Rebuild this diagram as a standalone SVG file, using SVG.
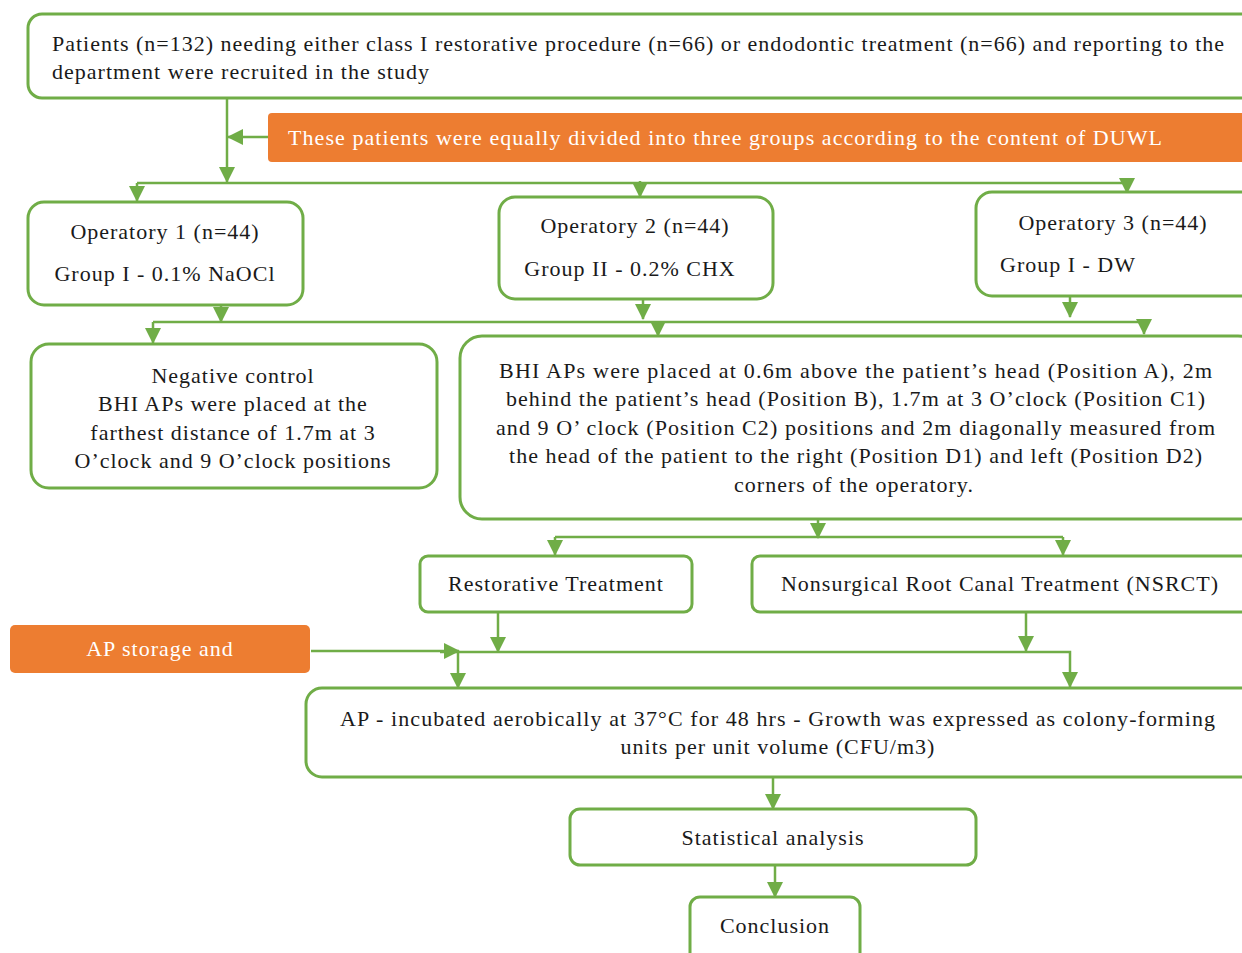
<svg xmlns="http://www.w3.org/2000/svg" width="1242" height="953" viewBox="0 0 1242 953">
<style>
.box{fill:#fff;stroke:#70AD47;stroke-width:3}
.ob{fill:#ED7D31;stroke:none}
.t{font-family:"Liberation Serif","Times New Roman",serif;font-size:22px;letter-spacing:1px;fill:#1a1a1a}
.c{text-anchor:middle}
.w{fill:#fff}
.ln{fill:none;stroke:#70AD47;stroke-width:2.5}
</style>
<defs>
<marker id="ah" markerUnits="userSpaceOnUse" markerWidth="16" markerHeight="18" refX="15" refY="8" orient="auto">
<path d="M0,0 L16,8 L0,16 Z" fill="#70AD47"/>
</marker>
</defs>
<rect width="1242" height="953" fill="#fff"/>
<g id="connectors">
<path class="ln" d="M227,98 V182" marker-end="url(#ah)"/>
<path class="ln" d="M268,137 H228" marker-end="url(#ah)"/>
<path class="ln" d="M137,183 H1127" />
<path class="ln" d="M137,183 V201" marker-end="url(#ah)"/>
<path class="ln" d="M640,181 V197" marker-end="url(#ah)"/>
<path class="ln" d="M1127,180 V193" marker-end="url(#ah)"/>
<path class="ln" d="M221,305 V322" marker-end="url(#ah)"/>
<path class="ln" d="M643,299 V319" marker-end="url(#ah)"/>
<path class="ln" d="M1070,296 V317" marker-end="url(#ah)"/>
<path class="ln" d="M153,322 H1144"/>
<path class="ln" d="M153,322 V343" marker-end="url(#ah)"/>
<path class="ln" d="M658,321 V336" marker-end="url(#ah)"/>
<path class="ln" d="M1144,319 V334" marker-end="url(#ah)"/>
<path class="ln" d="M818,519 V538" marker-end="url(#ah)"/>
<path class="ln" d="M555,537 H1063"/>
<path class="ln" d="M555,537 V555" marker-end="url(#ah)"/>
<path class="ln" d="M1063,537 V555" marker-end="url(#ah)"/>
<path class="ln" d="M498,612 V652" marker-end="url(#ah)"/>
<path class="ln" d="M1026,612 V651" marker-end="url(#ah)"/>
<path class="ln" d="M311,651 H459" marker-end="url(#ah)"/>
<path class="ln" d="M440,652 H1070 V687" marker-end="url(#ah)"/>
<path class="ln" d="M458,652 V688" marker-end="url(#ah)"/>
<path class="ln" d="M773,777 V809" marker-end="url(#ah)"/>
<path class="ln" d="M775,865 V897" marker-end="url(#ah)"/>
</g>
<g id="n-patients">
<rect class="box" x="28" y="14" width="1230" height="84" rx="14"/>
<text class="t" x="52" y="51" textLength="1173" lengthAdjust="spacing">Patients (n=132) needing either class I restorative procedure (n=66) or endodontic treatment (n=66) and reporting to the</text>
<text class="t" x="52" y="79" textLength="378" lengthAdjust="spacing">department were recruited in the study</text>
</g>
<g id="n-divided">
<rect class="ob" x="268" y="113" width="990" height="49" rx="4"/>
<text class="t w" x="288" y="145" textLength="875" lengthAdjust="spacing">These patients were equally divided into three groups according to the content of DUWL</text>
</g>
<g id="n-op1">
<rect class="box" x="28" y="202" width="275" height="103" rx="16"/>
<text class="t c" x="165" y="239">Operatory 1 (n=44)</text>
<text class="t c" x="165" y="281">Group I - 0.1% NaOCl</text>
</g>
<g id="n-op2">
<rect class="box" x="499" y="197" width="274" height="102" rx="16"/>
<text class="t c" x="635" y="233">Operatory 2 (n=44)</text>
<text class="t c" x="630" y="276">Group II - 0.2% CHX</text>
</g>
<g id="n-op3">
<rect class="box" x="976" y="192" width="290" height="104" rx="16"/>
<text class="t c" x="1113" y="230">Operatory 3 (n=44)</text>
<text class="t" x="1000" y="272">Group I - DW</text>
</g>
<g id="n-negative">
<rect class="box" x="31" y="344" width="406" height="144" rx="18"/>
<text class="t c" x="233" y="383">Negative control</text>
<text class="t c" x="233" y="411">BHI APs were placed at the</text>
<text class="t c" x="233" y="440">farthest distance of 1.7m at 3</text>
<text class="t c" x="233" y="468">O’clock and 9 O’clock positions</text>
</g>
<g id="n-positions">
<rect class="box" x="460" y="336" width="800" height="183" rx="22"/>
<text class="t c" x="856" y="378" textLength="714" lengthAdjust="spacing">BHI APs were placed at 0.6m above the patient’s head (Position A), 2m</text>
<text class="t c" x="856" y="406" textLength="700" lengthAdjust="spacing">behind the patient’s head (Position B), 1.7m at 3 O’clock (Position C1)</text>
<text class="t c" x="856" y="435" textLength="720" lengthAdjust="spacing">and 9 O’ clock (Position C2) positions and 2m diagonally measured from</text>
<text class="t c" x="856" y="463" textLength="694" lengthAdjust="spacing">the head of the patient to the right (Position D1) and left (Position D2)</text>
<text class="t c" x="854" y="492">corners of the operatory.</text>
</g>
<g id="n-restorative">
<rect class="box" x="420" y="556" width="272" height="56" rx="8"/>
<text class="t c" x="556" y="591">Restorative Treatment</text>
</g>
<g id="n-nsrct">
<rect class="box" x="752" y="556" width="510" height="56" rx="8"/>
<text class="t c" x="1000" y="591">Nonsurgical Root Canal Treatment (NSRCT)</text>
</g>
<g id="n-storage">
<rect class="ob" x="10" y="625" width="300" height="48" rx="5"/>
<text class="t c w" x="160" y="656">AP storage and</text>
</g>
<g id="n-incubated">
<rect class="box" x="306" y="688" width="960" height="89" rx="16"/>
<text class="t c" x="778" y="726" textLength="876" lengthAdjust="spacing">AP - incubated aerobically at 37°C for 48 hrs - Growth was expressed as colony-forming</text>
<text class="t c" x="778" y="754">units per unit volume (CFU/m3)</text>
</g>
<g id="n-stats">
<rect class="box" x="570" y="809" width="406" height="56" rx="10"/>
<text class="t c" x="773" y="845">Statistical analysis</text>
</g>
<g id="n-conclusion">
<rect class="box" x="690" y="897" width="170" height="66" rx="10"/>
<text class="t c" x="775" y="933">Conclusion</text>
</g>
</svg>
